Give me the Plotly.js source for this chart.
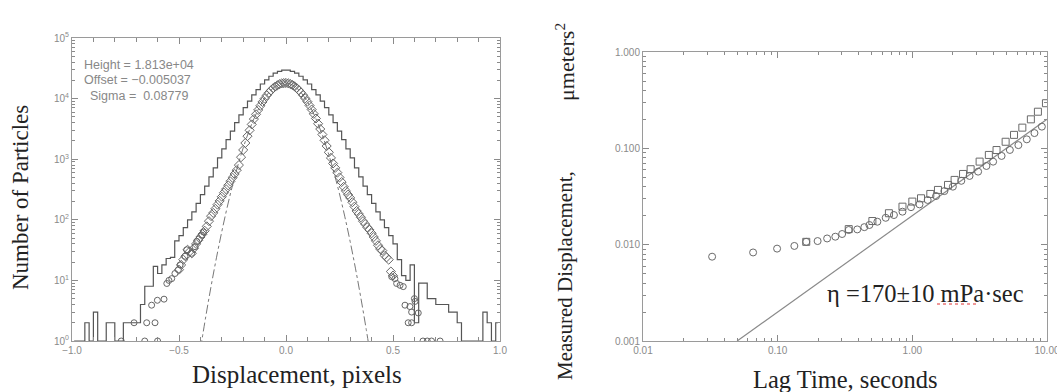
<!DOCTYPE html>
<html>
<head>
<meta charset="utf-8">
<script src="https://cdn.plot.ly/plotly-3.0.1.min.js"></script>
<style>html,body{margin:0;padding:0;background:#fff;}#chart{width:1057px;height:392px;}</style>
</head>
<body>
<div id="chart"></div>
<script>
// ---------- Left panel: displacement histogram ----------
const histX = [-0.99,-0.97,-0.95,-0.93,-0.91,-0.89,-0.87,-0.85,-0.83,-0.81,-0.79,-0.77,-0.75,-0.73,-0.71,-0.69,-0.67,-0.65,-0.63,-0.61,-0.59,-0.57,-0.55,-0.53,-0.51,-0.49,-0.47,-0.45,-0.43,-0.41,-0.39,-0.37,-0.35,-0.33,-0.31,-0.29,-0.27,-0.25,-0.23,-0.21,-0.19,-0.17,-0.15,-0.13,-0.11,-0.09,-0.07,-0.05,-0.03,-0.01,
  0.01,0.03,0.05,0.07,0.09,0.11,0.13,0.15,0.17,0.19,0.21,0.23,0.25,0.27,0.29,0.31,0.33,0.35,0.37,0.39,0.41,0.43,0.45,0.47,0.49,0.51,0.53,0.55,0.57,0.59,0.61,0.63,0.65,0.67,0.69,0.71,0.73,0.75,0.77,0.79,0.81,0.83,0.85,0.87,0.89,0.91,0.93,0.95,0.97,0.99];
const histCounts = [1,1,1,2,1,3,1,1,2,2,1,1,2,2,2,2,4,8,8,17,13,18,23,24,45,55,74,100,135,186,260,360,510,720,1050,1480,2100,2900,4000,5400,7100,9100,11500,14100,17400,20400,23400,26300,28200,29500,
  29500,28200,26300,23400,20400,17400,14100,11500,9100,7100,5400,4000,2900,2100,1480,1050,720,510,360,260,186,135,100,74,55,40,22,12,10,18,2,9,9,5,5,4,4,4,3,3,2,1,1,1,1,1,3,2,1,2];

const fitX = [-0.40,-0.375,-0.35,-0.325,-0.30,-0.275,-0.25,-0.225,-0.20,-0.175,-0.15,-0.125,-0.10,-0.075,-0.05,-0.025,0,0.025,0.05,0.075,0.10,0.125,0.15,0.175,0.20,0.225,0.25,0.275,0.30,0.325,0.35,0.375,0.40];
const fitY = [0.73,2.52,8.03,23.6,64.0,160,369,785,1538,2780,4634,7125,10095,13193,15898,17666,18101,17102,14900,11970,8866,6056,3815,2215,1187,586,267,112,43.4,15.5,5.10,1.55,0.43];

const diaX = [-0.50,-0.49,-0.48,-0.47,-0.46,-0.45,-0.44,-0.43,-0.42,-0.41,-0.40,-0.39,-0.38,-0.37,-0.36,-0.35,-0.34,-0.33,-0.32,-0.31,-0.30,-0.29,-0.28,-0.27,-0.26,-0.25,-0.24,-0.23,-0.22,-0.21,-0.20,-0.19,-0.18,-0.17,-0.16,-0.15,-0.14,-0.13,-0.12,-0.11,-0.10,-0.09,-0.08,-0.07,-0.06,-0.05,-0.04,-0.03,-0.02,-0.01,
  0.00,0.01,0.02,0.03,0.04,0.05,0.06,0.07,0.08,0.09,0.10,0.11,0.12,0.13,0.14,0.15,0.16,0.17,0.18,0.19,0.20,0.21,0.22,0.23,0.24,0.25,0.26,0.27,0.28,0.29,0.30,0.31,0.32,0.33,0.34,0.35,0.36,0.37,0.38,0.39,0.40,0.41,0.42,0.43,0.44,0.45,0.46,0.47,0.48,0.49,0.50];
const diaY = [15,18,22,25,32,30,28,34,40,46,52,58,66,78,95,115,130,152,178,205,240,280,320,370,430,495,570,660,800,1080,1420,1850,2400,3000,3750,4600,5500,6500,7600,8800,10000,11300,12500,13700,14800,15800,16600,17300,17800,18000,
  18100,17900,17400,16800,15900,14900,13800,12600,11400,10100,8900,7700,6600,5600,4700,3850,3150,2550,2050,1650,1300,1050,850,720,600,500,420,350,300,260,230,195,165,140,125,110,95,85,75,68,60,52,45,38,33,31,26,24,22,14,12];

const cirX = [-0.77,-0.71,-0.66,-0.651,-0.612,-0.60,-0.628,-0.601,-0.57,-0.557,-0.547,-0.534,-0.519,-0.503,-0.495,-0.472,-0.464,-0.441,-0.425,-0.417,-0.394,-0.386,
  0.494,0.509,0.517,0.533,0.548,0.556,0.571,0.579,0.587,0.587,0.603,0.60,0.618,0.64,0.66,0.68,0.72];
const cirY = [1,2,1,2,2,1,3.9,4.7,4.9,8.9,10,10.7,13,15,18,25,32,28,36,44,56,63,
  11.5,10.7,8.9,8.3,7.9,3.9,2,3.7,3.0,2,4.5,5,2.9,1,1,1,1];

const yTickVals = [1,10,100,1000,10000,100000];
const yTickText = ['10<sup>0</sup>','10<sup>1</sup>','10<sup>2</sup>','10<sup>3</sup>','10<sup>4</sup>','10<sup>5</sup>'];
const xTickVals = [-1,-0.5,0,0.5,1];
const xTickText = ['\u22121.0','\u22120.5','0.0','0.5','1.0'];

// ---------- Right panel: mean squared displacement ----------
const lagCirc = [0.0326,0.0657,0.099,0.133,0.163,0.198,0.233,0.268,0.301,0.337,0.39,0.44,0.48,0.55,0.634,0.73,0.845,0.977,1.13,1.30,1.50,1.73,2.0,2.31,2.66,3.08,3.55,3.98,4.6,5.3,6.13,7.08,8.07,9.16];
const msdCirc = [0.0075,0.0083,0.0091,0.0097,0.0107,0.0109,0.0116,0.0121,0.0129,0.0142,0.0144,0.0152,0.0160,0.0173,0.019,0.0203,0.022,0.0245,0.0262,0.0291,0.032,0.036,0.040,0.046,0.0517,0.0573,0.0656,0.0727,0.0834,0.0962,0.108,0.124,0.144,0.168];
const lagSq = [0.163,0.337,0.505,0.67,0.845,1.0,1.16,1.36,1.55,1.84,2.06,2.38,2.71,3.16,3.70,4.22,4.93,5.69,6.56,7.59,8.56,9.82];
const msdSq = [0.0107,0.0145,0.0176,0.0212,0.0248,0.028,0.0303,0.0336,0.037,0.0417,0.047,0.0542,0.0607,0.0728,0.0854,0.096,0.117,0.138,0.164,0.2,0.24,0.294];
const lagLine = [0.05,10];
const msdLine = [0.001,0.2];

const rxTickVals = [0.01,0.1,1,10];
const rxTickText = ['0.01','0.10','1.00','10.00'];
const ryTickVals = [0.001,0.01,0.1,1];
const ryTickText = ['0.001','0.010','0.100','1.000'];

const W = 1057, H = 392;
const px = v => v / W;
const py = v => 1 - v / H;

const tickFont = {family: 'Liberation Sans, Arial, sans-serif', size: 10, color: '#8a8a8a'};
const serif = 'Liberation Serif, Times New Roman, serif';
const axisCommon = {
  showgrid: false, zeroline: false, showline: true, linecolor: '#9a9a9a', linewidth: 1,
  mirror: 'allticks', ticks: 'inside', ticklen: 6, tickcolor: '#8a8a8a', tickwidth: 1,
  tickfont: tickFont, fixedrange: true, ticklabeloverflow: 'allow'
};
const ann = (text, x, y, size, extra) => Object.assign({
  text: text, xref: 'paper', yref: 'paper', x: px(x), y: py(y),
  xanchor: 'center', yanchor: 'middle', showarrow: false,
  font: {family: serif, size: size, color: '#222'}
}, extra || {});
const statFont = {family: 'Liberation Sans, Arial, sans-serif', size: 12.5, color: '#888'};

const traces = [
  {x: histX, y: histCounts, xaxis: 'x', yaxis: 'y', mode: 'lines', line: {shape: 'hvh', color: '#555', width: 1.2}},
  {x: fitX, y: fitY, xaxis: 'x', yaxis: 'y', mode: 'lines', line: {shape: 'spline', dash: 'dashdot', color: '#777', width: 1}},
  {x: diaX, y: diaY, xaxis: 'x', yaxis: 'y', mode: 'markers', marker: {symbol: 'diamond-open', size: 7, color: '#666', line: {width: 1}}},
  {x: cirX, y: cirY, xaxis: 'x', yaxis: 'y', mode: 'markers', marker: {symbol: 'circle-open', size: 6, color: '#666', line: {width: 1}}},
  {x: lagLine, y: msdLine, xaxis: 'x2', yaxis: 'y2', mode: 'lines', line: {color: '#8a8a8a', width: 1.2}},
  {x: lagCirc, y: msdCirc, xaxis: 'x2', yaxis: 'y2', mode: 'markers', marker: {symbol: 'circle-open', size: 7, color: '#6a6a6a', line: {width: 1}}},
  {x: lagSq, y: msdSq, xaxis: 'x2', yaxis: 'y2', mode: 'markers', marker: {symbol: 'square-open', size: 7, color: '#6a6a6a', line: {width: 1}}}
];

const layout = {
  width: W, height: H,
  margin: {l: 0, r: 0, t: 0, b: 0},
  paper_bgcolor: '#ffffff', plot_bgcolor: '#ffffff',
  showlegend: false,
  xaxis: Object.assign({}, axisCommon, {
    domain: [px(72), px(500)], range: [-1, 1], anchor: 'y',
    tickmode: 'array', tickvals: xTickVals, ticktext: xTickText,
    minor: {dtick: 0.1, tick0: 0, ticks: 'inside', ticklen: 4, tickcolor: '#8a8a8a'}
  }),
  yaxis: Object.assign({}, axisCommon, {
    domain: [1 - 341 / H, 1 - 38 / H], type: 'log', range: [0, 5], anchor: 'x',
    tickmode: 'array', tickvals: yTickVals, ticktext: yTickText,
    minor: {dtick: 'D1', ticks: 'inside', ticklen: 3, tickcolor: '#8a8a8a'}
  }),
  xaxis2: Object.assign({}, axisCommon, {
    domain: [px(643), px(1047)], type: 'log', range: [-2, 1], anchor: 'y2',
    tickmode: 'array', tickvals: rxTickVals, ticktext: rxTickText,
    minor: {dtick: 'D1', ticks: 'inside', ticklen: 3, tickcolor: '#8a8a8a'}
  }),
  yaxis2: Object.assign({}, axisCommon, {
    domain: [1 - 341 / H, 1 - 52 / H], type: 'log', range: [-3, 0], anchor: 'x2',
    tickmode: 'array', tickvals: ryTickVals, ticktext: ryTickText,
    minor: {dtick: 'D1', ticks: 'inside', ticklen: 3, tickcolor: '#8a8a8a'}
  }),
  annotations: [
    ann('Number of Particles', 21, 198, 23, {textangle: -90}),
    ann('Displacement, pixels', 297, 374, 25),
    ann('Measured Displacement,', 565, 276, 21, {textangle: -90}),
    ann('\u03bcmeters<sup>2</sup>', 565, 62, 22, {textangle: -90}),
    ann('Lag Time, seconds', 845, 379, 24.5),
    ann('\u03b7 =170\u00b110 mPa\u00b7sec', 925, 293, 24.5),
    {text: 'Height = 1.813e+04', xref: 'paper', yref: 'paper', x: px(82), y: py(65), xanchor: 'left', yanchor: 'middle', showarrow: false, font: statFont},
    {text: 'Offset = \u22120.005037', xref: 'paper', yref: 'paper', x: px(82), y: py(80), xanchor: 'left', yanchor: 'middle', showarrow: false, font: statFont},
    {text: 'Sigma =&nbsp;&nbsp;0.08779', xref: 'paper', yref: 'paper', x: px(88), y: py(96), xanchor: 'left', yanchor: 'middle', showarrow: false, font: statFont}
  ],
  shapes: [
    {type: 'line', xref: 'paper', yref: 'paper', x0: px(937), x1: px(978), y0: py(304), y1: py(304), line: {color: '#e03030', width: 1, dash: 'dot'}}
  ]
};

Plotly.newPlot('chart', traces, layout, {displayModeBar: false, staticPlot: true});
</script>
</body>
</html>
